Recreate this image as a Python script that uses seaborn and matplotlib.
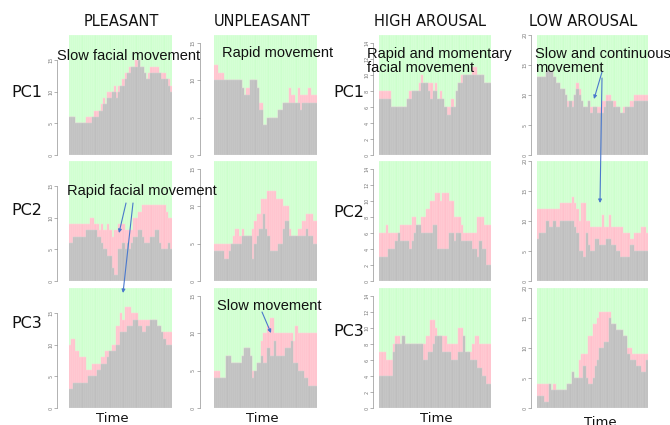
import numpy as np
import matplotlib
matplotlib.use('Agg')
import matplotlib.pyplot as plt
import seaborn as sns

# ---- data: gray = lower part, total = gray + pink, per time bin ----
pleasant_pc1_gray = [6,6,6,5,5,5,5,5,5,5,5,6,6,6,7,7,8,8,9,9,10,10,9,10,11,11,12,13,13,14,14,14,15,14,14,13,12,12,13,13,13,13,13,12,12,12,11,10]
pleasant_pc1_total = [6,6,6,5,5,5,5,5,6,6,6,6,7,7,7,8,9,8,10,10,10,11,10,11,11,12,13,13,14,14,14,15,15,14,14,13,12,13,14,14,14,14,13,13,13,12,12,11]
unpleasant_pc1_gray = [10,10,10,10,10,10,10,10,10,10,10,10,10,9,8,8,8,10,10,10,9,6,6,4,4,5,5,5,5,5,6,6,7,7,7,7,7,7,7,7,6,7,7,7,7,7,7,7]
unpleasant_pc1_total = [12,12,11,11,11,10,10,10,10,10,10,10,10,9,8,9,9,10,10,10,9,7,7,4,4,5,5,5,5,5,6,6,7,7,7,9,8,8,7,9,8,8,8,8,9,8,8,8]
high_pc1_gray = [7,7,7,7,7,6,6,6,6,6,6,6,7,7,8,8,8,8,9,9,9,8,7,8,8,7,7,7,6,5,5,6,6,8,9,9,10,10,10,10,10,10,10,10,10,9,9,9]
high_pc1_total = [8,8,8,8,8,6,6,6,6,6,6,6,7,8,8,8,8,9,10,9,9,9,9,8,9,7,8,7,6,6,6,7,6,8,9,10,10,10,10,10,11,11,10,10,10,9,9,9]
low_pc1_gray = [13,13,13,13,14,14,14,13,12,12,11,11,10,8,9,8,10,11,10,9,8,8,9,7,8,8,7,7,7,8,9,9,9,8,8,8,7,7,8,8,8,8,9,9,9,9,9,9]
low_pc1_total = [13,13,13,13,14,14,14,13,12,12,11,11,10,9,9,9,10,12,11,9,8,8,9,8,8,8,8,8,9,9,10,10,9,9,8,8,7,8,8,8,9,9,10,10,10,10,10,10]

pleasant_pc2_gray = [6,6,7,7,7,7,7,7,8,8,8,8,8,7,7,6,5,5,4,4,2,1,1,5,5,6,5,6,5,6,7,7,8,8,7,6,6,6,7,7,8,8,6,5,5,5,6,5]
pleasant_pc2_total = [9,9,9,9,9,9,9,9,9,9,10,10,9,9,8,9,8,8,9,8,7,8,8,9,9,9,8,8,8,8,10,10,11,11,12,12,12,12,12,12,12,12,12,12,12,11,10,10]
unpleasant_pc2_gray = [4,4,4,4,4,3,3,4,5,5,5,5,5,6,6,6,6,6,3,5,6,7,7,9,7,6,4,4,4,4,5,5,7,8,8,6,6,6,6,6,6,6,6,7,6,6,5,5]
unpleasant_pc2_total = [5,5,5,5,5,5,5,5,5,6,7,7,6,7,6,6,6,6,7,8,9,9,11,11,11,12,12,12,12,11,11,11,10,10,10,7,6,6,6,7,7,8,8,9,9,9,8,8]
high_pc2_gray = [3,3,3,3,4,4,4,5,6,5,5,5,5,4,5,6,7,7,6,6,6,6,6,7,7,4,4,4,4,4,6,6,5,6,6,5,5,5,5,5,4,4,3,5,4,4,2,2]
high_pc2_total = [6,6,6,7,6,6,6,6,6,7,7,7,7,7,8,8,7,7,8,8,9,9,10,10,11,11,10,11,11,11,10,10,8,8,8,7,6,6,6,6,6,6,8,8,8,7,7,7]
low_pc2_gray = [7,8,8,8,10,9,9,10,9,9,10,10,10,10,10,10,9,8,5,5,4,8,6,5,5,7,7,6,6,6,7,7,6,6,5,5,4,4,4,4,6,6,5,5,5,5,5,5]
low_pc2_total = [12,12,12,12,12,12,12,12,12,12,13,13,13,13,13,14,13,12,10,13,13,10,10,9,9,9,9,9,11,9,9,11,9,9,9,9,9,8,8,8,7,7,8,8,8,9,9,8]

pleasant_pc3_gray = [3,3,4,4,4,4,4,4,4,5,5,5,5,6,6,7,7,7,8,9,9,9,10,10,12,12,12,13,13,13,14,14,13,13,12,12,13,13,14,14,14,13,13,12,11,10,10,10]
pleasant_pc3_total = [10,11,11,9,9,8,8,8,6,6,6,7,7,7,7,8,8,9,9,9,10,10,13,13,15,14,16,16,16,15,15,15,14,14,14,14,14,14,14,14,14,13,13,12,12,12,12,12]
unpleasant_pc3_gray = [4,4,4,4,4,4,7,7,6,6,6,6,6,7,8,8,8,7,4,5,6,6,7,6,6,8,7,7,9,7,7,7,7,8,8,8,9,6,6,5,5,5,4,4,3,3,3,3]
unpleasant_pc3_total = [5,5,5,4,4,4,7,7,6,6,6,6,6,7,8,8,8,7,5,5,6,6,9,10,10,11,12,12,10,10,10,10,10,10,10,10,10,9,11,10,10,10,10,10,10,10,10,10]
high_pc3_gray = [4,4,4,4,4,4,7,8,8,8,9,8,8,8,8,8,8,8,8,6,6,7,7,8,9,9,9,7,7,7,7,6,6,6,7,7,9,7,7,6,6,6,5,5,4,4,3,3]
high_pc3_total = [7,7,7,6,6,6,8,9,9,8,9,8,8,8,8,8,8,8,8,8,9,9,11,11,10,9,9,9,9,8,8,8,8,8,10,10,9,7,7,7,8,9,9,8,8,8,8,8]
low_pc3_gray = [2,2,2,1,1,4,3,3,3,3,3,3,3,4,4,6,5,5,5,5,7,5,4,4,5,7,8,10,10,11,11,15,14,14,13,13,13,12,12,9,8,8,8,7,7,6,6,8]
low_pc3_total = [4,4,4,4,4,4,3,4,3,3,3,3,3,4,4,6,5,5,8,9,9,9,12,12,14,14,15,16,16,16,16,16,14,14,13,13,13,12,12,10,10,9,9,9,9,9,9,9]

columns = ['PLEASANT', 'UNPLEASANT', 'HIGH AROUSAL', 'LOW AROUSAL']
rows = ['PC1', 'PC2', 'PC3']
col_max = [19, 16, 15, 20]
col_ticks = [[0, 5, 10, 15], [0, 5, 10, 15], [0, 2, 4, 6, 8, 10, 12, 14], [0, 5, 10, 15, 20]]

panels = {
    ('PLEASANT', 'PC1'): (pleasant_pc1_gray, pleasant_pc1_total),
    ('UNPLEASANT', 'PC1'): (unpleasant_pc1_gray, unpleasant_pc1_total),
    ('HIGH AROUSAL', 'PC1'): (high_pc1_gray, high_pc1_total),
    ('LOW AROUSAL', 'PC1'): (low_pc1_gray, low_pc1_total),
    ('PLEASANT', 'PC2'): (pleasant_pc2_gray, pleasant_pc2_total),
    ('UNPLEASANT', 'PC2'): (unpleasant_pc2_gray, unpleasant_pc2_total),
    ('HIGH AROUSAL', 'PC2'): (high_pc2_gray, high_pc2_total),
    ('LOW AROUSAL', 'PC2'): (low_pc2_gray, low_pc2_total),
    ('PLEASANT', 'PC3'): (pleasant_pc3_gray, pleasant_pc3_total),
    ('UNPLEASANT', 'PC3'): (unpleasant_pc3_gray, unpleasant_pc3_total),
    ('HIGH AROUSAL', 'PC3'): (high_pc3_gray, high_pc3_total),
    ('LOW AROUSAL', 'PC3'): (low_pc3_gray, low_pc3_total),
}

GRAY, GRAY_EDGE = '#BEBEBE', '#D2D2D2'
PINK, PINK_EDGE = '#FFC0CB', '#FFD6DC'
GREEN, GREEN_EDGE = '#CCFFCC', '#E2FFE2'
ARROW = '#4A78CC'

# layout in pixels of the 670x425 canvas
W, H = 670, 425
col_x = [(68.5, 172), (213.5, 317), (379, 491), (537, 648)]
col_axis_off = [8, 10, 4, 4]
row_y = [(35, 155), (161, 281), (288, 408)]

sns.set_theme(style='white')
plt.rcParams['font.family'] = ['DejaVu Sans']

fig = plt.figure(figsize=(6.7, 4.25), dpi=100)

for c, col in enumerate(columns):
    for r, row in enumerate(rows):
        gray, total = panels[(col, row)]
        gray = np.array(gray)
        total = np.maximum(np.array(total), gray)
        n = len(gray)
        idx = np.arange(n)
        x0, x1 = col_x[c]
        y0, y1 = row_y[r]
        ax = fig.add_axes([x0 / W, 1 - y1 / H, (x1 - x0) / W, (y1 - y0) / H])
        kw = dict(ax=ax, saturation=1, width=1.0, errorbar=None, linewidth=0.35)
        sns.barplot(x=idx, y=np.full(n, col_max[c]), color=GREEN, edgecolor=GREEN_EDGE, **kw)
        sns.barplot(x=idx, y=total, color=PINK, edgecolor=PINK_EDGE, **kw)
        sns.barplot(x=idx, y=gray, color=GRAY, edgecolor=GRAY_EDGE, **kw)
        # spine offset first: it resets tick settings
        sns.despine(ax=ax, bottom=True, offset={'left': col_axis_off[c]})
        ax.set_xlim(-0.5, n - 0.5)
        ax.set_ylim(0, col_max[c])
        ax.set_xlabel('')
        ax.set_ylabel('')
        ax.set_xticks([])
        ax.set_yticks(col_ticks[c])
        ax.set_yticklabels([str(t) for t in col_ticks[c]], rotation=90,
                           va='center', fontsize=3.5, color='#777777')
        ax.tick_params(axis='y', length=2, width=0.4, color='#777777', pad=1, left=True)
        ax.spines['left'].set_bounds(col_ticks[c][0], col_ticks[c][-1])
        ax.spines['left'].set_linewidth(0.4)
        ax.spines['left'].set_color('#777777')
        ax.patch.set_alpha(0)

# overlay for labels and arrows, pixel coordinates
ov = fig.add_axes([0, 0, 1, 1], zorder=10)
ov.set_xlim(0, W)
ov.set_ylim(H, 0)
ov.axis('off')
ov.patch.set_alpha(0)

title_pos = [(121, 21), (262, 21), (430, 21), (583, 21)]
for (x, y), name in zip(title_pos, columns):
    ov.text(x, y, name, ha='center', va='center', fontsize=10.5, color='#111111')

pc_left = [(27, 92), (27, 210), (27, 323)]
pc_right = [(349, 92), (349, 212), (349, 331)]
for name, (x, y) in zip(rows, pc_left):
    ov.text(x, y, name, ha='center', va='center', fontsize=11.5, color='#111111')
for name, (x, y) in zip(rows, pc_right):
    ov.text(x, y, name, ha='center', va='center', fontsize=11.5, color='#111111')

time_pos = [(112, 418), (262, 418), (436, 418), (600, 423)]
for x, y in time_pos:
    ov.text(x, y, 'Time', ha='center', va='center', fontsize=9.5, color='#111111')

note_font = dict(family='Liberation Sans', fontsize=10.5, color='#111111', ha='left', va='center')
ov.text(57, 56, 'Slow facial movement', **note_font)
ov.text(222, 53, 'Rapid movement', **note_font)
ov.text(367, 61, 'Rapid and momentary\nfacial movement', linespacing=1.05, **note_font)
ov.text(535, 61, 'Slow and continuous\nmovement', linespacing=1.05, **note_font)
ov.text(67, 191, 'Rapid facial movement', **note_font)
ov.text(217, 306, 'Slow movement', **note_font)

arrows = [
    ((126, 203), (119, 233)),
    ((133, 203), (123, 293)),
    ((262, 312), (271, 333)),
    ((602, 72), (594, 99)),
    ((602, 78), (600, 203)),
]
for start, end in arrows:
    ov.annotate('', xy=end, xytext=start,
                arrowprops=dict(arrowstyle='-|>', color=ARROW, lw=0.8,
                                mutation_scale=5, shrinkA=0, shrinkB=0))

fig.savefig('out.png', dpi=100)
